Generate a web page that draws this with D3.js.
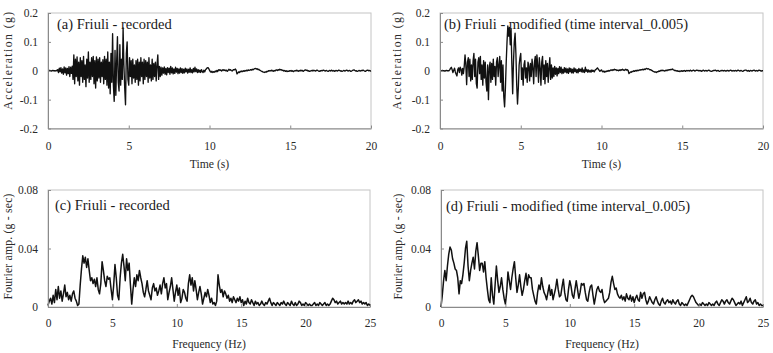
<!DOCTYPE html>
<html>
<head>
<meta charset="utf-8">
<script src="https://cdn.jsdelivr.net/npm/d3@7"></script>
<style>
  body { margin: 0; background: #fff; }
  svg { display: block; }
  svg text { font-family: 'Liberation Serif', 'DejaVu Serif', serif; }
</style>
</head>
<body>
<svg id="drawing_region"></svg>
<script>
// acceleration time histories, one value every 0.05 s, one row per second
const accStep = 0.05;
const accRecorded = [
  0, 0, 0.001, 0, -0.001, 0, 0.001, 0, 0, -0.001, 0.001, 0, 0.004, -0.006, 0.009, -0.004, 0.011, -0.008, 0.006, -0.012,
  0.013, -0.007, 0.01, -0.015, 0.008, -0.01, 0.014, -0.02, 0.012, -0.009, 0.016, -0.03, 0.055, -0.045, 0.04, -0.02, 0.048, -0.035, 0.03, -0.05,
  0.045, -0.02, 0.035, -0.04, 0.05, -0.03, 0.02, -0.055, 0.04, -0.025, 0.065, -0.04, 0.03, -0.03, 0.045, -0.02, 0.05, -0.045, 0.035, -0.06,
  0.048, -0.035, 0.04, -0.025, 0.045, -0.04, 0.03, -0.02, 0.038, -0.045, 0.05, -0.03, 0.04, -0.05, 0.065, -0.06, 0.03, -0.08, 0.06, -0.04,
  0.128, -0.05, -0.106, 0.07, -0.085, 0.03, 0.118, -0.04, -0.07, 0.09, -0.05, 0.04, -0.03, 0.148, 0.02, -0.06, -0.118, 0.06, 0.1, -0.03,
  -0.05, 0.045, -0.02, 0.035, -0.045, 0.04, -0.025, 0.02, -0.04, 0.035, -0.03, 0.04, -0.05, 0.03, -0.035, 0.045, -0.02, 0.03, -0.045, 0.04,
  -0.03, 0.035, -0.02, 0.03, -0.04, 0.045, -0.025, 0.02, -0.035, 0.04, -0.03, 0.025, -0.02, 0.03, -0.035, 0.02, 0.055, -0.03, 0.015, -0.02,
  0.012, -0.015, 0.01, -0.008, 0.013, -0.012, 0.008, -0.014, 0.011, -0.006, 0.009, -0.012, 0.015, -0.007, 0.01, -0.011, 0.006, -0.009, 0.012, -0.005,
  0.008, -0.01, 0.006, -0.008, 0.01, -0.006, 0.007, -0.009, 0.005, -0.007, 0.009, -0.004, 0.006, -0.008, 0.005, -0.005, 0.01, -0.006, 0.004, -0.007,
  0.008, -0.004, 0.012, -0.003, 0.006, -0.006, 0.004, -0.005, 0.002, -0.006, 0.004, -0.003, -0.006, 0.002, -0.004, 0.003, 0.006, 0.01, 0.011, 0.008,
  0.002, -0.003, -0.005, -0.002, -0.006, -0.003, -0.005, -0.001, -0.004, 0.001, -0.003, 0.002, 0.004, 0.001, 0.003, -0.001, 0.002, 0.004, 0.001, 0.003,
  0, 0.002, -0.002, 0.001, 0.005, 0.002, 0.004, 0.001, -0.001, 0.002, 0.004, 0.003, 0.006, 0.002, -0.011, -0.008, -0.004, -0.006, -0.002, -0.004,
  -0.001, -0.003, 0, -0.002, 0.001, -0.001, 0.002, 0, 0.003, 0.001, 0.002, 0.004, 0.002, 0.005, 0.003, 0.006, 0.007, 0.008, 0.006, 0.007,
  0.004, 0.005, 0.002, 0.001, -0.001, -0.002, -0.004, -0.005, -0.006, -0.004, -0.005, -0.002, -0.003, 0, -0.001, 0.001, -0.001, 0.002, 0, -0.002,
  0.001, -0.001, 0.002, 0.003, 0.001, 0.004, 0.002, 0.005, 0.003, 0.004, 0.001, 0.002, -0.001, 0.001, -0.002, 0, -0.003, -0.001, -0.002, 0,
  -0.001, 0.001, -0.002, 0, -0.003, -0.001, 0.001, -0.001, 0.002, 0, -0.002, 0.001, -0.001, 0.002, 0, 0.001, -0.002, 0, 0.002, 0.003,
  0.001, 0.002, -0.001, 0, -0.002, -0.001, 0.001, -0.001, 0.002, 0, 0.001, -0.001, 0, 0.002, 0.001, -0.001, -0.002, 0, -0.001, 0.001,
  0, 0.002, 0.001, -0.001, 0, 0.001, -0.001, -0.002, 0, 0.001, -0.001, 0.002, 0, -0.001, 0.001, -0.002, 0, 0.001, -0.001, 0,
  0.002, 0.001, -0.001, 0, -0.002, -0.001, 0.001, 0, -0.001, 0.001, 0.002, 0, -0.001, 0.001, 0, -0.002, -0.001, 0.001, 0.002, 0.003,
  0.001, -0.001, 0, -0.002, -0.001, 0.001, 0, -0.001, 0.001, 0, 0.002, 0.001, -0.001, -0.002, 0, 0.001, 0.002, 0, 0.001, -0.001,
  0
];
const accModified = [
  0, 0, 0, 0.001, 0, 0, -0.001, 0, 0.001, 0, 0, 0, 0.003, 0.008, 0.012, 0.004, -0.006, 0.002, 0.009, -0.004,
  -0.012, -0.018, 0.004, 0.01, -0.006, 0.012, 0.005, -0.015, 0.008, -0.01, 0.015, 0.055, 0.02, -0.048, 0.03, 0.045, -0.02, 0.04, -0.035, 0.02,
  -0.03, 0.035, 0.06, -0.02, 0.04, -0.045, -0.06, 0.03, 0.045, -0.01, 0.05, -0.03, 0.02, -0.05, 0.035, -0.025, 0.03, -0.04, -0.07, 0.02,
  -0.1, 0.01, 0.03, -0.04, 0.025, -0.03, 0.04, -0.02, 0.015, -0.05, 0.03, 0.045, -0.02, 0.02, 0.05, -0.04, 0.035, -0.07, 0.02, -0.09,
  -0.125, -0.06, 0.03, 0.1, 0.155, 0.12, 0.15, 0.09, 0.145, 0.02, -0.08, 0.03, 0.1, 0.13, 0.06, -0.05, -0.115, -0.06, 0.02, 0.045,
  0.06, -0.03, 0.01, -0.05, 0.02, 0.035, -0.025, 0.01, -0.04, 0.03, 0.015, -0.035, 0.025, -0.02, 0.04, 0.01, -0.045, 0.03, 0.05, -0.02,
  0.055, 0.02, -0.04, 0.045, 0.01, -0.05, 0.03, 0.05, -0.03, 0.02, -0.045, 0.035, -0.02, 0.025, -0.04, 0.01, 0.045, -0.03, 0.02, -0.025,
  0.01, -0.02, 0.015, -0.012, 0.01, -0.018, 0.008, -0.01, 0.014, -0.006, 0.012, -0.01, 0.005, -0.008, 0.011, -0.005, 0.009, -0.007, 0.006, -0.009,
  0.01, -0.004, 0.008, -0.007, 0.005, -0.008, 0.01, -0.003, 0.006, -0.006, 0.004, -0.007, 0.008, -0.002, 0.005, -0.004, 0.01, -0.005, 0.003, -0.006,
  0.012, -0.002, 0.004, -0.005, 0.003, -0.004, 0.001, -0.005, 0.003, -0.002, 0.001, -0.004, 0.002, 0.004, 0.007, 0.01, 0.006, 0.002, -0.002, 0.001,
  0.003, -0.002, -0.004, -0.001, -0.005, -0.002, -0.003, 0, -0.002, 0.001, -0.001, 0.002, 0.003, 0.001, 0.004, 0.002, 0.005, 0.003, 0.004, 0.001,
  0.002, 0, 0.003, 0.001, 0.004, 0.002, 0.005, 0.003, 0.001, 0.003, 0.005, 0.002, 0.004, 0.001, -0.01, -0.007, -0.004, -0.005, -0.002, -0.003,
  0, -0.002, 0.001, -0.001, 0.002, 0, 0.001, 0.003, 0.002, 0.004, 0.003, 0.005, 0.003, 0.006, 0.004, 0.007, 0.008, 0.006, 0.007, 0.005,
  0.003, 0.004, 0.001, 0, -0.002, -0.003, -0.005, -0.004, -0.006, -0.003, -0.004, -0.001, -0.002, 0.001, 0, 0.002, 0, 0.001, -0.001, 0,
  0.002, 0, 0.003, 0.002, 0.004, 0.003, 0.005, 0.004, 0.006, 0.003, 0.002, 0, 0.001, -0.001, 0, -0.002, -0.001, -0.003, -0.001, 0,
  -0.002, 0, -0.001, 0.001, -0.002, 0, 0.001, -0.001, 0.001, -0.001, 0.002, 0, -0.001, 0.001, 0.002, 0, -0.001, 0.001, 0.002, 0.001,
  0, 0.001, -0.001, 0.001, -0.002, 0, 0.002, 0, -0.001, 0.001, 0, -0.001, 0.001, 0.002, 0, -0.001, -0.002, -0.001, 0, 0.001,
  0.001, 0.002, 0, -0.001, 0.001, 0, -0.002, -0.001, 0.001, 0, 0.001, -0.001, 0.001, 0, -0.001, 0, 0.001, 0, -0.001, 0.001,
  0.002, 0, -0.001, 0.001, -0.001, 0, 0.001, -0.001, 0, 0.002, 0.001, -0.001, 0, 0.001, -0.001, -0.002, 0, 0.001, 0.002, 0.002,
  0, -0.001, 0.001, -0.002, 0, 0.001, -0.001, 0, 0.001, 0.002, 0, -0.001, 0.001, -0.001, 0, 0.002, 0.001, 0, -0.001, 0,
  0
];

// Fourier amplitude spectra, one value every 0.1 Hz, one row per Hz
const fasStep = 0.1;
const fasRecorded = [
  0.001, 0.004, 0.006, 0.002, 0.008, 0.003, 0.012, 0.005, 0.014, 0.006,
  0.011, 0.004, 0.009, 0.015, 0.007, 0.01, 0.005, 0.008, 0.004, 0.009,
  0.011, 0.006, 0.004, 0.001, 0.002, 0.015, 0.026, 0.035, 0.03, 0.034,
  0.027, 0.033, 0.025, 0.018, 0.02, 0.016, 0.019, 0.014, 0.02, 0.012,
  0.009, 0.016, 0.031, 0.025, 0.018, 0.014, 0.021, 0.019, 0.02, 0.012,
  0.005, 0.015, 0.029, 0.02, 0.008, 0.005, 0.02, 0.03, 0.036, 0.028,
  0.018, 0.033, 0.025, 0.03, 0.015, 0.002, 0.012, 0.02, 0.014, 0.022,
  0.018, 0.025, 0.02, 0.016, 0.01, 0.007, 0.012, 0.018, 0.011, 0.008,
  0.005, 0.013, 0.016, 0.011, 0.013, 0.008, 0.011, 0.015, 0.009, 0.016,
  0.02, 0.013, 0.016, 0.005, 0.01, 0.014, 0.02, 0.012, 0.004, 0.01,
  0.015, 0.008, 0.013, 0.003, 0.006, 0.012, 0.01, 0.006, 0.004, 0.016,
  0.022, 0.015, 0.02, 0.011, 0.018, 0.012, 0.005, 0.01, 0.014, 0.009,
  0.002, 0.006, 0.01, 0.007, 0.012, 0.008, 0.003, 0.006, 0.002, 0.003,
  0.001, 0.004, 0.022, 0.015, 0.01, 0.012, 0.007, 0.011, 0.009, 0.006,
  0.008, 0.004, 0.006, 0.003, 0.007, 0.005, 0.003, 0.006, 0.004, 0.007,
  0.003, 0.005, 0.001, 0.004, 0.002, 0.006, 0.003, 0.002, 0.005, 0.003,
  0.001, 0.004, 0.002, 0.003, 0.001, 0.002, 0.004, 0.002, 0.001, 0.003,
  0.002, 0.004, 0.006, 0.003, 0.001, 0.003, 0.002, 0.001, 0.003, 0.002,
  0.001, 0.003, 0.002, 0.004, 0.002, 0.001, 0.003, 0.002, 0.001, 0.004,
  0.002, 0.001, 0.003, 0.001, 0.002, 0.004, 0.003, 0.001, 0.002, 0.001,
  0.003, 0.002, 0.001, 0.002, 0.001, 0.001, 0.002, 0.003, 0.001, 0.002,
  0.001, 0.003, 0.002, 0.001, 0.002, 0.003, 0.001, 0.002, 0.001, 0.002,
  0.004, 0.006, 0.005, 0.003, 0.004, 0.002, 0.003, 0.004, 0.002, 0.003,
  0.002, 0.003, 0.002, 0.004, 0.002, 0.003, 0.002, 0.004, 0.005, 0.003,
  0.004, 0.005, 0.003, 0.004, 0.002, 0.003, 0.002, 0.003, 0.001, 0.002,
  0.001
];
const fasModified = [
  0, 0.008, 0.018, 0.025, 0.018, 0.028, 0.036, 0.041, 0.039, 0.033,
  0.03, 0.026, 0.025, 0.02, 0.009, 0.018, 0.016, 0.022, 0.03, 0.04,
  0.045, 0.028, 0.018, 0.025, 0.03, 0.034, 0.026, 0.038, 0.044, 0.035,
  0.025, 0.03, 0.03, 0.024, 0.031, 0.02, 0.012, 0.005, 0.003, 0.02,
  0.008, 0.002, 0.015, 0.028, 0.018, 0.01, 0.014, 0.02, 0.012, 0.006,
  0.002, 0.01, 0.024, 0.018, 0.012, 0.02, 0.026, 0.031, 0.02, 0.01,
  0.015, 0.022, 0.014, 0.008, 0.012, 0.018, 0.023, 0.015, 0.022, 0.02,
  0.02, 0.012, 0.008, 0.004, 0.002, 0.01, 0.015, 0.012, 0.02, 0.014,
  0.01, 0.008, 0.005, 0.01, 0.015, 0.008, 0.012, 0.005, 0.009, 0.013,
  0.019, 0.012, 0.007, 0.008, 0.014, 0.019, 0.01, 0.005, 0.004, 0.012,
  0.018, 0.014, 0.008, 0.006, 0.012, 0.018, 0.012, 0.006, 0.01, 0.016,
  0.015, 0.016, 0.01, 0.005, 0.004, 0.01, 0.014, 0.015, 0.008, 0.002,
  0.007, 0.012, 0.014, 0.011, 0.01, 0.012, 0.006, 0.003, 0.004, 0.005,
  0.006, 0.01, 0.017, 0.021, 0.016, 0.012, 0.013, 0.009, 0.007, 0.006,
  0.008, 0.005, 0.007, 0.004, 0.009, 0.006, 0.005, 0.008, 0.004, 0.007,
  0.003, 0.006, 0.008, 0.005, 0.004, 0.01, 0.006, 0.009, 0.01, 0.005,
  0.002, 0.004, 0.007, 0.005, 0.003, 0.002, 0.005, 0.007, 0.004, 0.002,
  0.001, 0.004, 0.006, 0.003, 0.002, 0.004, 0.005, 0.003, 0.004, 0.002,
  0.005, 0.003, 0.002, 0.004, 0.005, 0.002, 0.001, 0.003, 0.002, 0.001,
  0.002, 0.001, 0.003, 0.005, 0.007, 0.008, 0.007, 0.005, 0.003, 0.002,
  0.001, 0.002, 0.001, 0.003, 0.002, 0.001, 0.002, 0.001, 0.003, 0.002,
  0.001, 0.002, 0.001, 0.003, 0.004, 0.002, 0.001, 0.003, 0.005, 0.004,
  0.002, 0.004, 0.005, 0.003, 0.002, 0.004, 0.006, 0.005, 0.003, 0.001,
  0.002, 0.003, 0.002, 0.004, 0.001, 0.003, 0.005, 0.007, 0.003, 0.004,
  0.006, 0.003, 0.002, 0.004, 0.005, 0.002, 0.003, 0.001, 0.002, 0.001,
  0.001
];

// ticks and labels
const timeTicks = [0, 5, 10, 15, 20];
const accTicks = [-0.2, -0.1, 0, 0.1, 0.2];
const accTickLabels = ['-0.2', '-0.1', '0', '0.1', '0.2'];
const freqTicks = [0, 5, 10, 15, 20, 25];
const fasTicks = [0, 0.04, 0.08];
const fasTickLabels = ['0', '0.04', '0.08'];
const titles = [
  '(a) Friuli - recorded',
  '(b) Friuli - modified (time interval_0.005)',
  '(c) Friuli - recorded',
  '(d) Friuli - modified (time interval_0.005)'
];

const serif = "'Liberation Serif', 'DejaVu Serif', serif";

const svg = d3.select('#drawing_region')
  .attr('width', 773)
  .attr('height', 353);

class Panel {
  constructor(config, data) {
    this.config = config;
    this.data = data;
    this.init();
    this.render();
  }

  init() {
    let self = this;
    let c = self.config;

    self.chart = svg.append('g')
      .attr('transform', `translate(${c.left}, ${c.top})`);

    self.xscale = d3.scaleLinear().domain(c.xDomain).range([0, c.width]);
    self.yscale = d3.scaleLinear().domain(c.yDomain).range([c.height, 0]);

    self.xaxis = d3.axisBottom(self.xscale)
      .tickValues(c.xTicks)
      .tickFormat(d => d)
      .tickSizeInner(-3)
      .tickSizeOuter(0)
      .tickPadding(c.xPad);

    self.yaxis = d3.axisLeft(self.yscale)
      .tickValues(c.yTicks)
      .tickFormat((d, i) => c.yTickLabels[i])
      .tickSizeInner(-3)
      .tickSizeOuter(0)
      .tickPadding(10);

    self.line = d3.line()
      .x(d => self.xscale(d[0]))
      .y(d => self.yscale(d[1]));
  }

  render() {
    let self = this;
    let c = self.config;

    // plot area outline
    self.chart.append('rect')
      .attr('width', c.width)
      .attr('height', c.height)
      .attr('fill', 'none')
      .attr('stroke', '#c4c4c4')
      .attr('stroke-width', 1);

    self.chart.append('path')
      .attr('d', self.line(self.data))
      .attr('fill', 'none')
      .attr('stroke', '#111')
      .attr('stroke-width', c.lineWidth)
      .attr('stroke-linejoin', 'round');

    let xg = self.chart.append('g')
      .attr('transform', `translate(0, ${c.height})`)
      .call(self.xaxis);
    let yg = self.chart.append('g')
      .call(self.yaxis);

    [xg, yg].forEach(g => {
      g.attr('font-family', serif).attr('font-size', 11.5);
      g.select('.domain').attr('stroke', '#8a8a8a');
      g.selectAll('.tick line').attr('stroke', '#8a8a8a');
      g.selectAll('.tick text').attr('fill', '#2a2a2a');
    });

    self.chart.append('text')
      .attr('x', c.titleX)
      .attr('y', c.titleY)
      .attr('fill', '#1a1a1a')
      .attr('font-family', serif)
      .attr('font-size', 14.5)
      .text(c.title);

    self.chart.append('text')
      .attr('x', c.width / 2)
      .attr('y', c.height + c.xLabelY)
      .attr('text-anchor', 'middle')
      .attr('fill', '#2a2a2a')
      .attr('font-family', serif)
      .attr('font-size', 11.7)
      .text(c.xLabel);

    self.chart.append('text')
      .attr('transform', `translate(${c.yLabelX}, ${c.height / 2 - c.yLabelShift}) rotate(-90)`)
      .attr('text-anchor', 'middle')
      .attr('fill', '#2a2a2a')
      .attr('font-family', serif)
      .attr('font-size', 11.7)
      .attr('textLength', c.yLabelLength)
      .text(c.yLabel);
  }
}

const accConfig = {
  width: 323, height: 115.5,
  xDomain: [0, 20], yDomain: [-0.2, 0.2],
  xTicks: timeTicks, yTicks: accTicks, yTickLabels: accTickLabels,
  xPad: 13, xLabel: 'Time (s)', xLabelY: 39,
  yLabel: 'Acceleration (g)', yLabelLength: 98, yLabelShift: 10,
  lineWidth: 1.35
};
const fasConfig = {
  width: 322, height: 117,
  xDomain: [0, 25], yDomain: [0, 0.08],
  xTicks: freqTicks, yTicks: fasTicks, yTickLabels: fasTickLabels,
  xPad: 12, xLabel: 'Frequency (Hz)', xLabelY: 40.5,
  yLabel: 'Fourier amp. (g - sec)', yLabelLength: 106, yLabelShift: 2,
  lineWidth: 1.5
};

new Panel(Object.assign({}, accConfig, {left: 48, top: 13, title: titles[0], titleX: 9, titleY: 15.5, yLabelX: -36}),
  accRecorded.map((v, i) => [i * accStep, v]));
new Panel(Object.assign({}, accConfig, {left: 440, top: 13, title: titles[1], titleX: 4, titleY: 15.5, yLabelX: -39}),
  accModified.map((v, i) => [i * accStep, v]));
new Panel(Object.assign({}, fasConfig, {left: 48, top: 190, title: titles[2], titleX: 7, titleY: 20, yLabelX: -36}),
  fasRecorded.map((v, i) => [i * fasStep, v]));
new Panel(Object.assign({}, fasConfig, {left: 441, top: 190, title: titles[3], titleX: 5, titleY: 21, yLabelX: -39}),
  fasModified.map((v, i) => [i * fasStep, v]));
</script>
</body>
</html>
